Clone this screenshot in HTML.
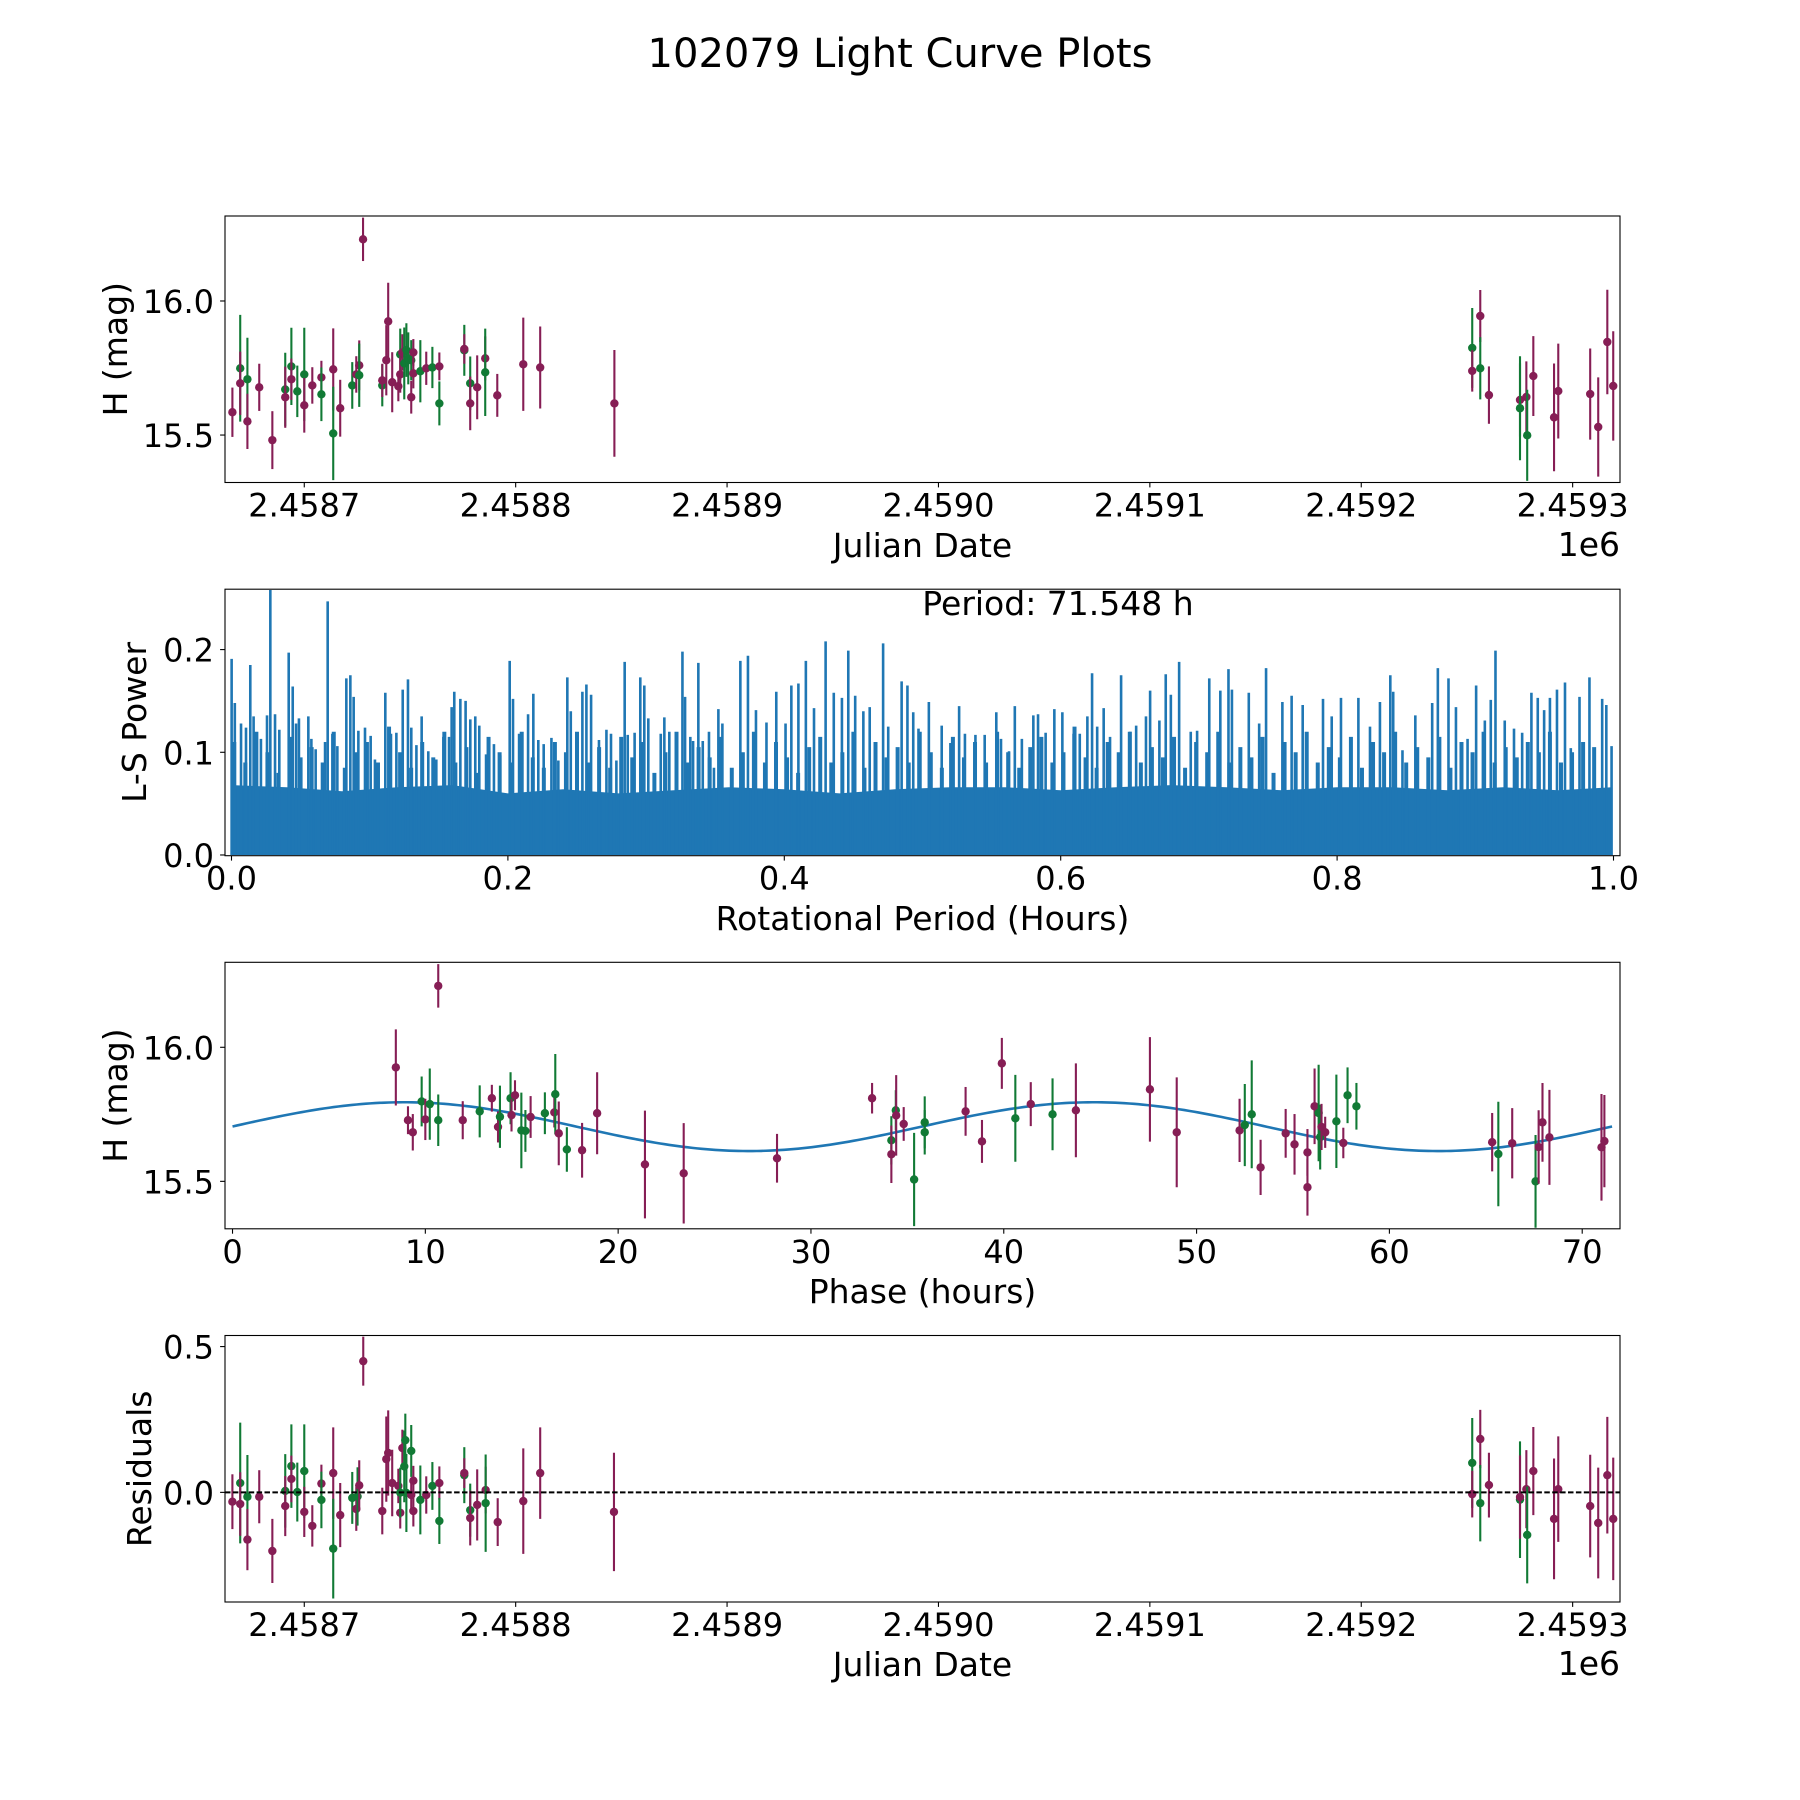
<!DOCTYPE html>
<html><head><meta charset="utf-8"><title>102079 Light Curve Plots</title>
<style>
html,body{margin:0;padding:0;background:#fff;}
svg{display:block;font-family:"DejaVu Sans","Liberation Sans",sans-serif;}
</style></head>
<body>
<svg id="fig" xmlns="http://www.w3.org/2000/svg" width="1800" height="1800" viewBox="0 0 1800 1800">
<rect x="0" y="0" width="1800" height="1800" fill="#fff"/>
<text x="900" y="67" font-size="40" text-anchor="middle">102079 Light Curve Plots</text>
<g id="p1"></g>
<g id="p2"></g>
<g id="p3"></g>
<g id="p4"></g>
<text x="922.5" y="557" font-size="33" text-anchor="middle">Julian Date</text>
<text x="1620" y="556" font-size="33" text-anchor="end">1e6</text>
<text transform="translate(127,349.2) rotate(-90)" font-size="33" text-anchor="middle">H (mag)</text>
<text x="922.5" y="930" font-size="33" text-anchor="middle">Rotational Period (Hours)</text>
<text transform="translate(146,722.4) rotate(-90)" font-size="33" text-anchor="middle">L-S Power</text>
<text x="1058" y="615" font-size="33" text-anchor="middle">Period: 71.548 h</text>
<text x="922.5" y="1303" font-size="33" text-anchor="middle">Phase (hours)</text>
<text transform="translate(127,1095.6) rotate(-90)" font-size="33" text-anchor="middle">H (mag)</text>
<text x="922.5" y="1676" font-size="33" text-anchor="middle">Julian Date</text>
<text x="1620" y="1675" font-size="33" text-anchor="end">1e6</text>
<text transform="translate(151,1468.8) rotate(-90)" font-size="33" text-anchor="middle">Residuals</text>
</svg>
<script>
// ---------- data: light curve (panel 1) ----------
const JD_BASE = 2458700;
const lcDays = [-34.0,-30.3,-30.3,-26.9,-26.9,-21.3,-15.1,-9.0,-9.0,-6.1,-6.1,-3.3,0.0,0.0,3.8,8.1,8.1,13.7,13.7,17.0,22.7,24.6,26.0,26.0,27.8,36.9,36.9,38.8,39.7,41.6,44.5,45.4,45.4,46.4,47.3,48.3,49.2,50.6,50.6,51.6,51.6,54.9,57.7,60.6,63.9,63.9,75.7,75.7,78.5,78.5,81.8,85.6,85.6,91.3,103.6,111.6,146.7,
552.5,552.5,556.3,556.3,560.4,575.1,575.1,578.1,578.5,581.4,591.2,593.2,608.3,612.1,616.4,619.2];
const lcMag = [15.585,15.749,15.693,15.708,15.551,15.678,15.481,15.670,15.641,15.756,15.708,15.663,15.726,15.611,15.685,15.715,15.652,15.745,15.506,15.600,15.685,15.726,15.760,15.723,16.230,15.685,15.704,15.779,15.924,15.697,15.682,15.801,15.726,15.808,15.767,15.817,15.786,15.641,15.779,15.808,15.730,15.738,15.749,15.752,15.756,15.618,15.816,15.821,15.693,15.618,15.678,15.786,15.734,15.648,15.764,15.752,15.618,
15.825,15.739,15.944,15.749,15.649,15.631,15.600,15.642,15.499,15.720,15.566,15.664,15.653,15.530,15.847,15.683];
const lcErr = [.092,.199,.118,.155,.103,.088,.108,.137,.114,.144,.077,.096,.174,.102,.068,.062,.1,.153,.174,.106,.087,.068,.093,.118,.081,.078,.062,.131,.144,.112,.056,.096,.068,.068,.134,.1,.097,.061,.075,.05,.056,.116,.062,.077,.052,.082,.095,.055,.1,.1,.119,.082,.163,.08,.174,.153,.199,
.149,.077,.097,.116,.107,.137,.194,.133,.170,.149,.201,.177,.170,.185,.195,.204];
const lcBand = ['P','G','P','G','P','P','P','G','P','G','P','G','G','P','P','P','G','P','G','P','G','P','P','G','P','G','P','P','P','P','P','G','P','P','G','G','G','P','G','P','P','G','P','G','P','G','G','P','G','P','P','P','G','P','P','P','P',
'G','P','P','G','P','P','G','P','G','P','P','P','P','P','P','P'];

// ---------- data: periodogram (panel 2) ----------
const peakPeriods = [.0001,.0024,.0069,.0105,.0136,.0160,.0213,.0257,.0281,.0315,.0346,.0414,.0443,.0467,.0488,.0556,.0578,.0609,.0677,.0696,.0730,.0766,.0831,.0860,.0884,.0918,.0966,.1007,.1038,.1113,.1154,.1193,.1239,.1277,.1301,.1338,.1376,.1424,.1482,.1533,.1574,.1593,.1612,.1656,.1694,.1728,.1764,.1793,.1842,.1899,.1945,.2013,.2037,.2081,.2146,.2184,.2220,.2259,.2315,.2365,.2430,.2455,.2500,.2539,.2568,.2602,.2659,.2713,.2746,.2785,.2845,.2867,.2917,.2958,.2987,.3016,.3106,.3132,.3168,.3263,.3282,.3320,.3340,.3378,.3410,.3455,.3491,.3523,.3552,
.3682,.3737,.3795,.3871,.3942,.4009,.4051,.4102,.4156,.4215,.4299,.4358,.4417,.4463,.4513,.4572,.4618,.4715,.4752,.4849,.4891,.4933,.4971,.5046,.5139,.5202,.5265,.5307,.5383,.5450,.5534,.5568,.5626,.5668,.5719,.5802,.5836,.5891,.5954,.6012,.6093,.6138,.6193,.6227,.6264,.6311,.6357,.6437,.6504,.6546,.6617,.6647,.6714,.6760,.6797,.6857,.6941,.6987,.7075,.7155,.7214,.7239,.7361,.7436,.7486,.7604,.7671,.7751,.7898,.7961,.8028,.8154,.8238,.8310,.8385,.8406,.8473,.8566,.8688,.8729,.8806,.8860,.8944,.9006,.9069,.9112,.9146,.9213,.9280,.9339,.9406,.9452,.9498,.9540,.9591,.9649,.9691,.9754,.9826,.9918,.9948,.9986];
const peakPowers = [.191,.148,.128,.124,.185,.135,.113,.136,.258,.137,.122,.197,.164,.128,.133,.135,.113,.103,.110,.247,.118,.106,.172,.175,.154,.121,.124,.116,.093,.158,.118,.119,.161,.171,.124,.107,.135,.101,.093,.115,.115,.144,.159,.152,.150,.132,.135,.126,.098,.108,.097,.189,.152,.118,.137,.157,.112,.108,.114,.092,.173,.140,.110,.159,.166,.156,.112,.122,.118,.092,.188,.117,.119,.173,.165,.133,.118,.134,.120,.198,.154,.115,.111,.187,.111,.120,.085,.142,.128,
.189,.194,.141,.129,.159,.128,.165,.167,.189,.143,.208,.158,.153,.199,.155,.140,.144,.206,.125,.169,.165,.139,.123,.149,.126,.109,.145,.118,.117,.117,.139,.113,.101,.145,.113,.136,.137,.119,.142,.139,.118,.118,.135,.177,.125,.143,.115,.175,.120,.126,.135,.160,.131,.176,.156,.188,.120,.121,.172,.160,.181,.161,.158,.128,.182,.149,.155,.146,.152,.135,.153,.153,.125,.149,.175,.159,.102,.136,.148,.182,.172,.144,.113,.165,.131,.151,.199,.131,.123,.119,.158,.153,.141,.153,.161,.168,.104,.154,.173,.152,.146,.106];
// secondary (smaller) peaks, read at 0.008 steps from 0.002
const minorStart = [0.002];
const minorStep = [0.008];
const minorPowers = [.11,.09,.12,.10,.08,.115,.095,.105,.09,.12,.085,.10,.11,.09,.125,.10,.085,.11,.095,.12,.09,.105,.08,.115,.10,.09,.12,.095,.085,.11,
.10,.12,.09,.105,.085,.115,.095,.11,.08,.10,.12,.09,.105,.095,.115,.085,.10,.12,.09,.11,.095,.08,.105,.115,.09,.10,.12,.085,.11,.095,
.105,.09,.12,.10,.085,.115,.095,.11,.09,.12,.10,.085,.105,.115,.09,.10,.125,.095,.085,.11,.10,.12,.09,.105,.095,.115,.085,.11,.10,.12,
.09,.105,.095,.115,.08,.11,.10,.12,.09,.105,.095,.115,.085,.11,.10,.12,.09,.105,.095,.115,.085,.11,.10,.12,.09,.105,.095,.11,.10,.12,.09,.10,.11,.105];
const floorPeriods = [0,.04,.08,.12,.16,.20,.24,.28,.32,.36,.40,.44,.48,.52,.56,.60,.64,.68,.72,.76,.80,.84,.88,.92,.96,.999];
const floorPowers = [.068,.066,.062,.066,.068,.06,.064,.06,.063,.066,.064,.06,.064,.066,.066,.063,.066,.068,.066,.063,.066,.066,.063,.066,.063,.066];

// ---------- data: phase-folded (panel 3) ----------
const phHours = [8.47,9.10,9.35,9.81,10.0,10.23,10.67,10.67,11.94,12.82,13.45,13.77,13.87,14.42,14.47,14.65,14.98,15.19,15.46,16.20,16.69,16.74,16.92,17.34,18.13,18.91,21.39,23.40,28.24,33.17,34.17,34.17,34.40,34.42,34.81,35.35,35.90,35.90,38.02,38.87,39.90,40.60,41.40,42.53,43.74,47.58,48.97,52.23,52.50,52.86,53.32,54.62,55.08,55.75,55.75,56.12,56.33,56.41,56.48,56.67,57.25,57.61,57.83,58.29,65.33,65.65,66.37,67.58,67.74,67.94,68.30,71.00,71.15];
const phMag = [15.925,15.728,15.683,15.798,15.731,15.788,16.229,15.728,15.728,15.761,15.810,15.703,15.741,15.810,15.747,15.821,15.690,15.688,15.740,15.754,15.757,15.825,15.679,15.619,15.616,15.754,15.563,15.530,15.586,15.810,15.653,15.601,15.765,15.746,15.714,15.507,15.720,15.683,15.761,15.649,15.940,15.735,15.788,15.750,15.765,15.843,15.683,15.690,15.710,15.750,15.552,15.679,15.638,15.608,15.478,15.780,15.755,15.665,15.703,15.683,15.724,15.643,15.821,15.780,15.646,15.602,15.642,15.500,15.628,15.720,15.664,15.627,15.650];
const phErr = [.142,.052,.068,.093,.077,.133,.081,.096,.071,.097,.050,.058,.116,.097,.061,.056,.141,.078,.078,.078,.056,.15,.119,.083,.102,.153,.201,.187,.091,.057,.09,.107,.075,.150,.063,.174,.097,.083,.091,.080,.095,.162,.082,.134,.175,.195,.205,.118,.153,.201,.103,.091,.113,.087,.106,.141,.180,.121,.086,.058,.174,.057,.104,.087,.109,.195,.131,.173,.137,.147,.177,.199,.172];
const phBand = ['P','P','P','G','P','G','P','G','P','G','P','P','G','G','P','P','G','G','P','G','P','G','P','G','P','P','P','P','P','P','G','P','G','P','P','G','G','G','P','P','P','G','P','G','P','P','P','P','G','G','P','P','P','P','P','P','G','G','P','P','G','P','G','G','P','G','P','G','P','P','P','P','P'];
// fitted model parameters: [mean mag, amplitude, half-period (h), peak phase (h)]
const modelParams = [15.704, 0.091, 35.774, 8.9];
const phasePeriod = [71.548];

// ---------- data: residuals (panel 4) ----------
const resDays = [-34.0,-30.3,-30.3,-26.9,-26.9,-21.3,-15.1,-9.0,-9.0,-6.1,-6.1,-3.3,0.0,0.0,3.8,8.1,8.1,13.7,13.7,17.0,22.7,24.6,25.2,26.0,27.9,36.9,38.8,39.7,41.6,44.5,45.4,45.4,46.4,47.3,47.8,48.3,50.6,50.6,51.6,51.6,54.9,57.7,60.6,63.9,63.9,75.7,75.7,78.5,78.5,81.8,85.8,85.8,91.5,103.6,111.6,146.5,
552.5,552.5,556.3,556.3,560.4,575.1,575.1,578.1,578.5,581.4,591.2,593.2,608.3,612.1,616.4,619.2];
const resVal = [-.032,.032,-.040,-.015,-.162,-.015,-.201,.005,-.047,.090,.046,.001,.073,-.067,-.115,.030,-.026,.066,-.193,-.078,-.019,-.057,-.014,.024,.450,-.064,.114,.135,.032,.022,-.070,-.001,.152,.089,.179,-.002,.142,-.009,.040,-.064,-.026,-.009,.022,.032,-.098,.059,.066,-.061,-.088,-.043,.008,-.037,-.102,-.030,.066,-.067,
.101,-.006,.183,-.037,.025,-.025,-.016,.011,-.146,.073,-.091,.011,-.047,-.105,.059,-.091];
const resErr = [.094,.207,.109,.143,.105,.091,.110,.126,.103,.143,.080,.101,.160,.086,.071,.065,.097,.157,.171,.110,.089,.075,.1,.086,.084,.080,.146,.146,.114,.059,.054,.086,.063,.123,.091,.134,.089,.054,.051,.053,.118,.064,.082,.057,.079,.096,.051,.091,.094,.122,.080,.167,.082,.181,.157,.203,
.154,.080,.1,.131,.111,.2,.143,.134,.166,.151,.207,.181,.176,.190,.2,.210];
const resBand = ['P','G','P','G','P','P','P','G','P','G','P','G','G','P','P','P','G','P','G','P','G','P','G','P','P','P','P','P','P','P','P','G','P','G','G','G','G','P','P','P','G','P','G','P','G','G','P','G','P','P','P','G','P','P','P','P',
'G','P','P','G','P','G','P','P','G','P','P','P','P','P','P','P'];

// ---------- tick arrays ----------
const jdTicks = [2458700,2458800,2458900,2459000,2459100,2459200,2459300];
const jdTickLabels = ['2.4587','2.4588','2.4589','2.4590','2.4591','2.4592','2.4593'];
const magTicks = [16.0,15.5];
const magTickLabels = ['16.0','15.5'];
const perTicks = [0,0.2,0.4,0.6,0.8,1.0];
const perTickLabels = ['0.0','0.2','0.4','0.6','0.8','1.0'];
const powTicks = [0,0.1,0.2];
const powTickLabels = ['0.0','0.1','0.2'];
const phTicks = [0,10,20,30,40,50,60,70];
const phTickLabels = ['0','10','20','30','40','50','60','70'];
const resTicks = [0.5,0.0];
const resTickLabels = ['0.5','0.0'];

// ---------- layout ----------
const NS = 'http://www.w3.org/2000/svg';
const AX_L = 225, AX_R = 1620, AX_H = 266.5;
const TOPS = [216, 589.2, 962.3, 1335.5];
const COLORS = {P:'#861e55', G:'#117a35'};
const JD_LIM = [2458662.5, 2459322.4];
const MAG_LIM = [15.323, 16.317];
const PER_LIM = [-0.0047, 1.0047];
const POW_LIM = [-0.0007, 0.2588];
const PH_LIM = [-0.39, 71.96];
const RES_LIM = [-0.376, 0.538];
const FS = '32';

function xScale(lim){ return v => AX_L + (v - lim[0]) / (lim[1] - lim[0]) * (AX_R - AX_L); }
function yScale(lim, top){ return v => top + (lim[1] - v) / (lim[1] - lim[0]) * AX_H; }

function el(tag, parent){ const e = document.createElementNS(NS, tag); parent.appendChild(e); return e; }

function drawFrame(g, top, name){
  const r = el('rect', g);
  
  
  r.setAttribute('x', AX_L); r.setAttribute('y', top);
  r.setAttribute('width', AX_R - AX_L); r.setAttribute('height', AX_H);
  r.setAttribute('fill', 'none'); r.setAttribute('stroke', '#000'); r.setAttribute('stroke-width', '1.1');
}
function drawXTicks(g, top, ticks, labels, sx){
  const bottom = top + AX_H;
  ticks.forEach((t, i) => {
    const x = sx(t);
    const ln = el('line', g);
    
    
    ln.setAttribute('x1', x); ln.setAttribute('x2', x); ln.setAttribute('y1', bottom); ln.setAttribute('y2', bottom + 4.9);
    ln.setAttribute('stroke', '#000'); ln.setAttribute('stroke-width', '1.1');
    const tx = el('text', g);
    
    
    tx.setAttribute('x', x); tx.setAttribute('y', bottom + 34);
    tx.setAttribute('font-size', FS); tx.setAttribute('text-anchor', 'middle');
    tx.textContent = labels[i];
  });
}
function drawYTicks(g, ticks, labels, sy){
  ticks.forEach((t, i) => {
    const y = sy(t);
    const ln = el('line', g);
    
    
    ln.setAttribute('x1', AX_L - 4.9); ln.setAttribute('x2', AX_L); ln.setAttribute('y1', y); ln.setAttribute('y2', y);
    ln.setAttribute('stroke', '#000'); ln.setAttribute('stroke-width', '1.1');
    const tx = el('text', g);
    
    
    tx.setAttribute('x', AX_L - 11); tx.setAttribute('y', y + 12);
    tx.setAttribute('font-size', FS); tx.setAttribute('text-anchor', 'end');
    tx.textContent = labels[i];
  });
}
function drawErrPoints(g, xs, ys, errs, bands, sx, sy, name){
  const clipG = el('g', g);
  
  
  clipG.setAttribute('clip-path', 'url(#' + name + '-clip)');
  for (let i = 0; i < xs.length; i++){
    const x = sx(xs[i]), c = COLORS[bands[i]];
    const eb = el('line', clipG);
    
    
    eb.setAttribute('x1', x); eb.setAttribute('x2', x);
    eb.setAttribute('y1', sy(ys[i] - errs[i])); eb.setAttribute('y2', sy(ys[i] + errs[i]));
    eb.setAttribute('stroke', c); eb.setAttribute('stroke-width', '2.1');
    const pt = el('circle', clipG);
    
    
    pt.setAttribute('cx', x); pt.setAttribute('cy', sy(ys[i])); pt.setAttribute('r', '4.2');
    pt.setAttribute('fill', c);
  }
}
function addClip(name, top){
  const svg = document.getElementById('fig');
  let defs = svg.querySelector('defs');
  if (!defs){ defs = document.createElementNS(NS, 'defs'); svg.insertBefore(defs, svg.firstChild); }
  const cp = document.createElementNS(NS, 'clipPath');
  cp.setAttribute('id', name + '-clip');
  defs.appendChild(cp);
  const r = document.createElementNS(NS, 'rect');
  r.setAttribute('x', AX_L); r.setAttribute('y', top); r.setAttribute('width', AX_R - AX_L); r.setAttribute('height', AX_H);
  cp.appendChild(r);
}

// ---------- panel 1 ----------
(function(){
  const g = document.getElementById('p1'), top = TOPS[0];
  const sx = xScale(JD_LIM), sy = yScale(MAG_LIM, top);
  addClip('lc', top);
  drawErrPoints(g, lcDays.map(d => d + JD_BASE), lcMag, lcErr, lcBand, sx, sy, 'lc');
  drawFrame(g, top, 'light-curve');
  drawXTicks(g, top, jdTicks, jdTickLabels, sx);
  drawYTicks(g, magTicks, magTickLabels, sy);
})();

// ---------- panel 2 ----------
(function(){
  const g = document.getElementById('p2'), top = TOPS[1];
  const sx = xScale(PER_LIM), sy = yScale(POW_LIM, top);
  addClip('ls', top);
  const cg = el('g', g);
  
  
  cg.setAttribute('clip-path', 'url(#ls-clip)');
  let d = 'M' + sx(floorPeriods[0]) + ',' + sy(0);
  floorPeriods.forEach((p, i) => { d += ' L' + sx(p) + ',' + sy(floorPowers[i]); });
  d += ' L' + sx(floorPeriods[floorPeriods.length - 1]) + ',' + sy(0) + ' Z';
  const fl = el('path', cg);
  
  
  fl.setAttribute('d', d); fl.setAttribute('fill', '#1f77b4');
  minorPowers.forEach((pw, i) => {
    const p = minorStart[0] + i * minorStep[0];
    const ln = el('line', cg);
    
    
    ln.setAttribute('x1', sx(p)); ln.setAttribute('x2', sx(p));
    ln.setAttribute('y1', sy(0)); ln.setAttribute('y2', sy(pw));
    ln.setAttribute('stroke', '#1f77b4'); ln.setAttribute('stroke-width', '4');
  });
  peakPeriods.forEach((p, i) => {
    const ln = el('line', cg);
    
    
    ln.setAttribute('x1', sx(p)); ln.setAttribute('x2', sx(p));
    ln.setAttribute('y1', sy(0)); ln.setAttribute('y2', sy(peakPowers[i]));
    ln.setAttribute('stroke', '#1f77b4'); ln.setAttribute('stroke-width', '2.6');
  });
  drawFrame(g, top, 'periodogram');
  drawXTicks(g, top, perTicks, perTickLabels, sx);
  drawYTicks(g, powTicks, powTickLabels, sy);
})();

// ---------- panel 3 ----------
(function(){
  const g = document.getElementById('p3'), top = TOPS[2];
  const sx = xScale(PH_LIM), sy = yScale(MAG_LIM, top);
  addClip('ph', top);
  let d = '';
  for (let k = 0; k <= 300; k++){
    const ph = phasePeriod[0] * k / 300;
    const m = modelParams[0] + modelParams[1] * Math.cos(2 * Math.PI * (ph - modelParams[3]) / modelParams[2]);
    d += (k ? ' L' : 'M') + sx(ph).toFixed(2) + ',' + sy(m).toFixed(2);
  }
  const mc = el('path', g);
  
  
  mc.setAttribute('d', d); mc.setAttribute('fill', 'none'); mc.setAttribute('stroke', '#1f77b4'); mc.setAttribute('stroke-width', '2.6');
  drawErrPoints(g, phHours, phMag, phErr, phBand, sx, sy, 'ph');
  drawFrame(g, top, 'phase-folded');
  drawXTicks(g, top, phTicks, phTickLabels, sx);
  drawYTicks(g, magTicks, magTickLabels, sy);
})();

// ---------- panel 4 ----------
(function(){
  const g = document.getElementById('p4'), top = TOPS[3];
  const sx = xScale(JD_LIM), sy = yScale(RES_LIM, top);
  addClip('res', top);
  drawErrPoints(g, resDays.map(d => d + JD_BASE), resVal, resErr, resBand, sx, sy, 'res');
  const zl = el('line', g);
  
  
  zl.setAttribute('x1', AX_L); zl.setAttribute('x2', AX_R); zl.setAttribute('y1', sy(0)); zl.setAttribute('y2', sy(0));
  zl.setAttribute('stroke', '#000'); zl.setAttribute('stroke-width', '2'); zl.setAttribute('stroke-dasharray', '5.5,2.4');
  drawFrame(g, top, 'residuals');
  drawXTicks(g, top, jdTicks, jdTickLabels, sx);
  drawYTicks(g, resTicks, resTickLabels, sy);
})();
</script>
</body></html>
